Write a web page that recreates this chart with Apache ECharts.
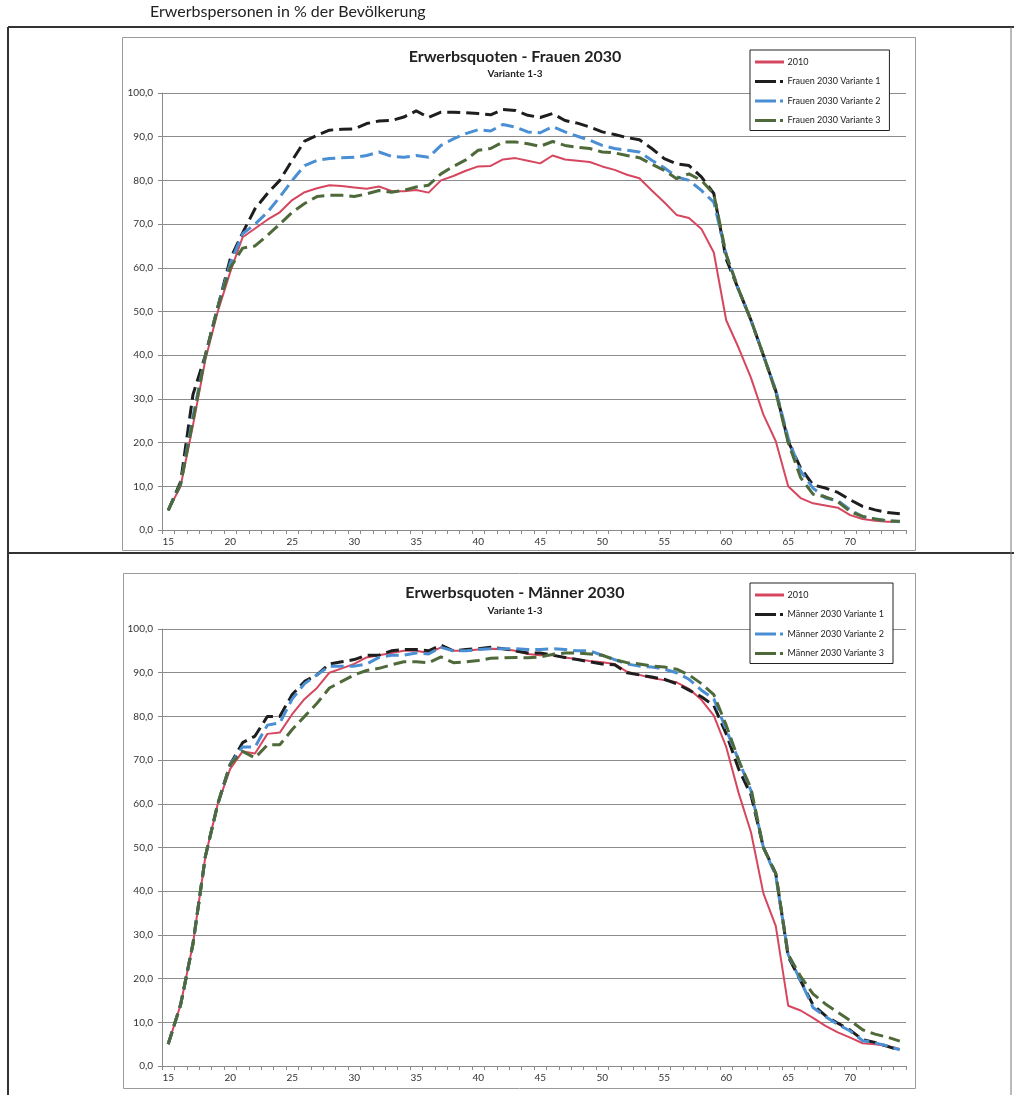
<!DOCTYPE html>
<html>
<head>
<meta charset="utf-8">
<title>Erwerbsquoten 2030</title>
<script src="https://cdn.jsdelivr.net/npm/echarts@6/dist/echarts.min.js"></script>
<style>
  html, body { margin: 0; padding: 0; background: #ffffff; }
  #chart { width: 1014px; height: 1095px; }
</style>
</head>
<body>
<div id="chart"></div>
<script>
// Altersjahre (Kategorien der x-Achse)
const ages = [15, 16, 17, 18, 19, 20, 21, 22, 23, 24,
              25, 26, 27, 28, 29, 30, 31, 32, 33, 34,
              35, 36, 37, 38, 39, 40, 41, 42, 43, 44,
              45, 46, 47, 48, 49, 50, 51, 52, 53, 54,
              55, 56, 57, 58, 59, 60, 61, 62, 63, 64,
              65, 66, 67, 68, 69, 70, 71, 72, 73, 74];

// Frauen: Erwerbsquoten in %
const frauen2010 = [4.5, 10, 24, 39, 50, 59, 67, 69, 71, 72.7,
                    75.5, 77.3, 78.2, 78.9, 78.7, 78.4, 78.1, 78.6, 77.6, 77.5,
                    77.8, 77.2, 80, 81, 82.2, 83.2, 83.3, 84.8, 85.1, 84.5,
                    83.9, 85.7, 84.8, 84.5, 84.2, 83.2, 82.4, 81.3, 80.5, 77.7,
                    75, 72.1, 71.4, 68.9, 63.5, 48, 41.7, 34.8, 26.4, 20.3,
                    10, 7.3, 6.1, 5.6, 5.1, 3.4, 2.5, 2.1, 1.9, 1.9];
const frauenV1 = [4.5, 11, 31, 40, 51, 62, 68, 73.5, 77, 80,
                  84.6, 89, 90.3, 91.5, 91.7, 91.8, 93, 93.6, 93.7, 94.5,
                  95.9, 94.4, 95.6, 95.6, 95.5, 95.3, 95, 96.2, 96, 94.9,
                  94.4, 95.3, 93.7, 93.1, 92.2, 91.1, 90.5, 89.8, 89.3, 87.3,
                  85, 83.8, 83.4, 80.8, 77, 62, 55, 48, 40, 31.8,
                  20.3, 14.2, 10.3, 9.6, 8.6, 6.9, 5.4, 4.6, 4, 3.7];
const frauenV2 = [4.5, 10.5, 26, 40, 51, 61, 67.8, 70, 72.7, 76.2,
                  80, 83.4, 84.6, 85, 85.2, 85.3, 85.7, 86.5, 85.5, 85.3,
                  85.7, 85.3, 88, 89.5, 90.7, 91.6, 91.3, 92.8, 92.2, 91.1,
                  90.9, 92.3, 91.1, 90.1, 89.2, 88, 87.3, 86.9, 86.5, 84.6,
                  82.9, 80.8, 80, 77.7, 75, 63, 55, 48, 40, 32,
                  21, 13.5, 9.6, 7.3, 6.7, 4.6, 3.1, 2.5, 2.1, 1.9];
const frauenV3 = [4.5, 10.5, 25, 40, 51, 60, 64.5, 65, 67.4, 70,
                  72.7, 74.7, 76.3, 76.6, 76.6, 76.3, 76.9, 77.7, 77.3, 77.7,
                  78.5, 78.9, 81.5, 83.2, 84.7, 86.9, 87.3, 88.8, 88.8, 88.4,
                  87.8, 88.9, 88, 87.6, 87.3, 86.5, 86.3, 85.7, 85.2, 83.7,
                  82.3, 80.4, 81.5, 80, 76.9, 63, 55, 48, 40, 31.5,
                  20, 12, 8.2, 7.6, 6.5, 4.2, 3.1, 2.5, 2.1, 2];

// Männer: Erwerbsquoten in %
const maenner2010 = [5, 14, 28, 48, 60, 68, 72, 71.5, 76, 76.3,
                     80.5, 84, 86.5, 90, 91, 92, 93.5, 94, 94.5, 95,
                     95, 94.5, 95.8, 95, 95, 95.3, 95.5, 95.4, 95, 94.3,
                     94, 94, 93.5, 93.1, 92.7, 92.4, 92, 90.2, 89.5, 88.8,
                     88.3, 87.8, 86.3, 83.8, 80.2, 73, 62.5, 53.5, 39.5, 32,
                     13.8, 12.7, 11, 9.2, 7.7, 6.5, 5.2, 5, 4.6, 3.9];
const maennerV1 = [5, 14, 28, 48, 60, 69, 74, 75.5, 80, 80,
                   85, 88, 89.5, 92, 92.5, 93, 94, 94, 95, 95.3,
                   95.3, 95, 96.3, 95, 95.3, 95.5, 95.8, 95.5, 95, 94.5,
                   94.5, 94, 93.5, 93, 92.5, 92, 91.8, 90, 89.5, 89,
                   88.5, 87.5, 86, 84.5, 82.5, 76, 68, 62, 50, 44,
                   25, 19.5, 14, 11.5, 9.8, 8.2, 6, 5.4, 4.5, 3.6];
const maennerV2 = [5, 14, 28, 48, 60, 69, 73, 73, 78, 78.5,
                   84, 87.5, 89.5, 91.5, 91.5, 91.5, 92, 93.5, 94, 94,
                   94.5, 94.3, 95.8, 95, 95, 95.3, 95.5, 95.5, 95.5, 95.3,
                   95.3, 95.5, 95.3, 95, 95, 94, 93, 92, 91.5, 91.3,
                   90.8, 90, 88.5, 86, 84, 77, 70, 63, 50, 43.5,
                   25.5, 19.5, 13.4, 11.3, 9.5, 8, 5.8, 5.3, 4.6, 3.7];
const maennerV3 = [5, 14, 28, 48, 60, 69, 72, 70.5, 73.5, 73.5,
                   77, 80, 83, 86.5, 88, 89.5, 90.5, 91, 91.8, 92.5,
                   92.5, 92.3, 93.6, 92.3, 92.5, 92.8, 93.3, 93.4, 93.5, 93.4,
                   93.6, 94.2, 94.5, 94.5, 94.3, 94, 93, 92.3, 92, 91.5,
                   91.3, 90.8, 89.5, 87.5, 85, 78, 70, 63.5, 50, 44,
                   25.5, 20.5, 16.5, 14.2, 12.3, 10.4, 8.3, 7.3, 6.6, 5.7];

const FONT = 'Lato, "Open Sans", "Noto Sans", sans-serif';
const COL_2010 = '#d6475f';
const COL_V1 = '#1e1e1e';
const COL_V2 = '#4a8fd3';
const COL_V3 = '#4f6a3a';

const ICON_SOLID = 'path://M0,0H29V3H0Z';
const ICON_MARK = 'path://M0,0H21V3H0Z M25,0H28V3H25Z M28,3H29V3Z';

const chart = echarts.init(document.getElementById('chart'), null, { renderer: 'canvas' });

function xAxisFor(idx) {
  return {
    type: 'category', gridIndex: idx, data: ages, boundaryGap: true,
    axisLine: { lineStyle: { color: '#8a8a8a', width: 1 } },
    axisTick: { show: true, interval: 0, length: 4, lineStyle: { color: '#8a8a8a' } },
    axisLabel: { interval: 4, color: '#333', fontSize: 10, fontFamily: FONT, margin: 7 },
    splitLine: { show: false }
  };
}
function yAxisFor(idx) {
  return {
    type: 'value', gridIndex: idx, min: 0, max: 100, interval: 10,
    axisLine: { show: true, lineStyle: { color: '#8a8a8a', width: 1 } },
    axisTick: { show: true, length: 4, lineStyle: { color: '#8a8a8a' } },
    axisLabel: { color: '#333', fontSize: 10, fontFamily: FONT, margin: 9,
      formatter: v => v.toFixed(1).replace('.', ',') },
    splitLine: { show: true, lineStyle: { color: '#8c8c8c', width: 1 } }
  };
}
function lineSeries(name, data, color, dashed, idx) {
  return {
    name, type: 'line', data, xAxisIndex: idx, yAxisIndex: idx,
    showSymbol: false, symbol: 'none', smooth: false, animation: false,
    color: color, itemStyle: { color: color },
    lineStyle: dashed ? { color, width: 3, type: [13, 6] } : { color, width: 2 }
  };
}
function legendFor(top, names) {
  return {
    orient: 'vertical', left: 750, top: top,
    backgroundColor: '#fff', borderColor: '#222', borderWidth: 1,
    padding: [6, 9, 4, 5], itemGap: 7.5, itemWidth: 30, itemHeight: 3,
    textStyle: { fontSize: 9, fontFamily: FONT, color: '#222', lineHeight: 12, padding: [0, 0, 0, -2] },
    selectedMode: false,
    data: names.map((n, i) => ({ name: n, icon: i === 0 ? ICON_SOLID : ICON_MARK }))
  };
}

const option = {
  backgroundColor: '#ffffff',
  animation: false,
  grid: [
    { left: 162, top: 93, width: 744, height: 437 },
    { left: 162, top: 629, width: 744, height: 437 }
  ],
  xAxis: [xAxisFor(0), xAxisFor(1)],
  yAxis: [yAxisFor(0), yAxisFor(1)],
  legend: [
    legendFor(50, ['2010', 'Frauen 2030 Variante 1', 'Frauen 2030 Variante 2', 'Frauen 2030 Variante 3']),
    legendFor(583, ['2010', 'Männer 2030 Variante 1', 'Männer 2030 Variante 2', 'Männer 2030 Variante 3'])
  ],
  series: [
    lineSeries('2010', frauen2010, COL_2010, false, 0),
    lineSeries('Frauen 2030 Variante 1', frauenV1, COL_V1, true, 0),
    lineSeries('Frauen 2030 Variante 2', frauenV2, COL_V2, true, 0),
    lineSeries('Frauen 2030 Variante 3', frauenV3, COL_V3, true, 0),
    lineSeries('2010', maenner2010, COL_2010, false, 1),
    lineSeries('Männer 2030 Variante 1', maennerV1, COL_V1, true, 1),
    lineSeries('Männer 2030 Variante 2', maennerV2, COL_V2, true, 1),
    lineSeries('Männer 2030 Variante 3', maennerV3, COL_V3, true, 1)
  ],
  graphic: [
    // Seitentitel und Tabellenrahmen
    { type: 'text', left: 150, top: 4, style: { text: 'Erwerbspersonen in % der Bevölkerung', fontSize: 16, fontFamily: FONT, fill: '#222' } },
    { type: 'line', shape: { x1: 8, y1: 27, x2: 1014, y2: 27 }, style: { stroke: '#333', lineWidth: 2 } },
    { type: 'line', shape: { x1: 8, y1: 27, x2: 8, y2: 1095 }, style: { stroke: '#333', lineWidth: 2 } },
    { type: 'line', shape: { x1: 8, y1: 553, x2: 1014, y2: 553 }, style: { stroke: '#333', lineWidth: 2 } },
    { type: 'line', shape: { x1: 1011, y1: 27, x2: 1011, y2: 1095 }, style: { stroke: '#777', lineWidth: 1 } },
    // Diagrammrahmen
    { type: 'rect', shape: { x: 122.5, y: 37.5, width: 793, height: 513 }, style: { fill: 'none', stroke: '#9a9a9a', lineWidth: 1 }, z: -1 },
    { type: 'rect', shape: { x: 123.5, y: 573.5, width: 792, height: 515 }, style: { fill: 'none', stroke: '#9a9a9a', lineWidth: 1 }, z: -1 },
    // Diagrammtitel
    { type: 'text', x: 515, y: 57, style: { text: 'Erwerbsquoten - Frauen 2030', fontSize: 16, fontWeight: 'bold', fontFamily: FONT, fill: '#222', align: 'center', verticalAlign: 'middle' } },
    { type: 'text', x: 515, y: 74, style: { text: 'Variante 1-3', fontSize: 10, fontWeight: 'bold', fontFamily: FONT, fill: '#222', align: 'center', verticalAlign: 'middle' } },
    { type: 'text', x: 515, y: 593, style: { text: 'Erwerbsquoten - Männer 2030', fontSize: 16, fontWeight: 'bold', fontFamily: FONT, fill: '#222', align: 'center', verticalAlign: 'middle' } },
    { type: 'text', x: 515, y: 611, style: { text: 'Variante 1-3', fontSize: 10, fontWeight: 'bold', fontFamily: FONT, fill: '#222', align: 'center', verticalAlign: 'middle' } }
  ]
};

chart.setOption(option);
</script>
</body>
</html>
